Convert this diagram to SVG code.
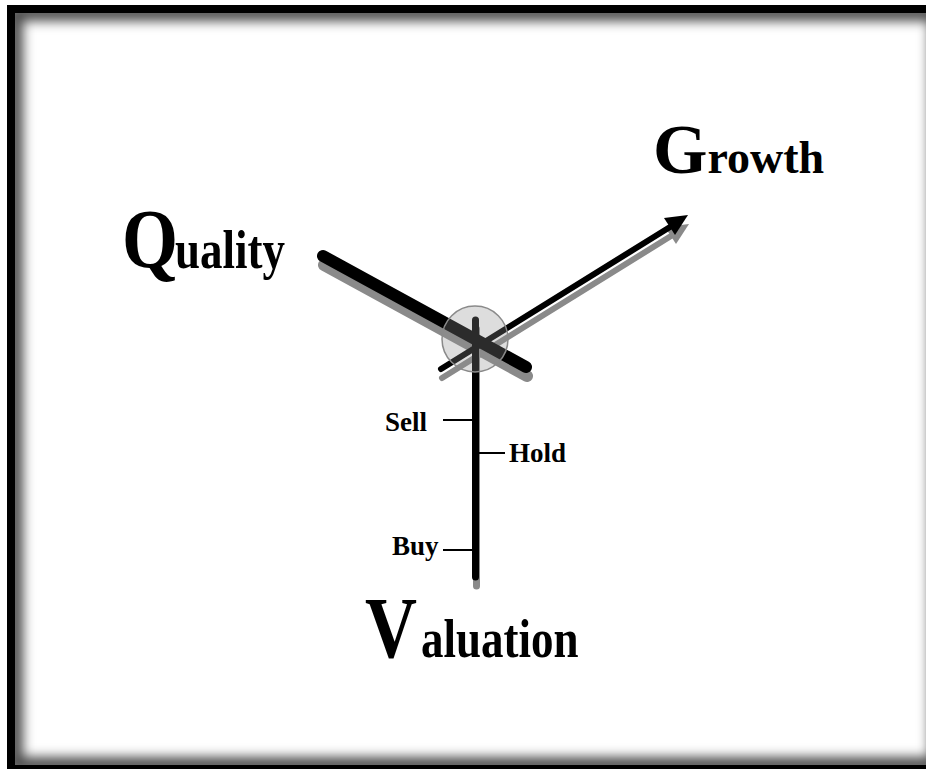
<svg xmlns="http://www.w3.org/2000/svg" width="926" height="769" viewBox="0 0 926 769">
  <style>
    .big { font-family: "Liberation Serif", "Times New Roman", serif; font-weight: bold; fill: #000; }
    .small { font-family: "Liberation Serif", "Times New Roman", serif; font-weight: bold; font-size: 27px; fill: #000; }
    .hand { stroke: #000; stroke-linecap: round; fill: none; }
    .shadow { stroke: #8a8a8a; stroke-linecap: round; fill: none; }
    .tick { stroke: #000; stroke-width: 2; }
  </style>
  <defs>
    <clipPath id="inner">
      <rect x="15" y="13" width="922" height="752"/>
    </clipPath>
    <filter id="blur" x="-10%" y="-10%" width="120%" height="120%">
      <feGaussianBlur stdDeviation="6"/>
    </filter>
  </defs>

  <g id="frame">
    <rect x="0" y="0" width="926" height="769" fill="#fff"/>
    <rect x="7" y="5" width="940" height="770" fill="#000"/>
    <rect x="15" y="13" width="922" height="752" fill="#fff"/>
    <g clip-path="url(#inner)">
      <rect x="15" y="13" width="922" height="752" fill="none" stroke="#000" stroke-width="16" stroke-opacity="0.7" filter="url(#blur)"/>
    </g>
  </g>

  <g id="connectors">
    <g id="shadows" transform="translate(1,9)">
      <line class="shadow" x1="323" y1="256" x2="526" y2="367" stroke-width="12"/>
      <line class="shadow" x1="441" y1="369" x2="670" y2="227" stroke-width="6"/>
      <polygon points="688,215 664,218 675,235" fill="#8a8a8a"/>
      <line class="shadow" x1="475.5" y1="320" x2="475.5" y2="577" stroke-width="7"/>
    </g>
    <line id="quality-hand" class="hand" x1="323" y1="256" x2="526" y2="367" stroke-width="12"/>
    <g id="growth-hand">
      <line class="hand" x1="441" y1="369" x2="670" y2="227" stroke-width="6"/>
      <polygon points="688,215 664,218 675,235" fill="#000"/>
    </g>
    <line id="valuation-hand" class="hand" x1="475.5" y1="320" x2="475.5" y2="577" stroke-width="7"/>
    <line class="tick" x1="443" y1="420" x2="475" y2="420"/>
    <line class="tick" x1="476" y1="453" x2="505" y2="453"/>
    <line class="tick" x1="443" y1="550" x2="475" y2="550"/>
  </g>

  <g id="hub">
    <circle cx="475" cy="339" r="33" fill="#8d8d8d" fill-opacity="0.3" stroke="#8a8a8a" stroke-width="1.5"/>
  </g>

  <g id="quality">
    <text class="big" font-size="72" transform="translate(122,268) scale(1,1.17)">Q</text>
    <text class="big" font-size="45" transform="translate(175,268) scale(1,1.2)">uality</text>
  </g>
  <g id="growth">
    <text class="big" x="653" y="173"><tspan font-size="70">G</tspan><tspan font-size="46">rowth</tspan></text>
  </g>
  <g id="valuation">
    <text class="big" font-size="72" transform="translate(365,657) scale(1,1.2)">V</text>
    <text class="big" font-size="45" transform="translate(421,657) scale(1,1.22)">aluation</text>
  </g>
  <g id="sell"><text class="small" x="385" y="431">Sell</text></g>
  <g id="hold"><text class="small" x="509" y="462">Hold</text></g>
  <g id="buy"><text class="small" x="392" y="555">Buy</text></g>
</svg>
